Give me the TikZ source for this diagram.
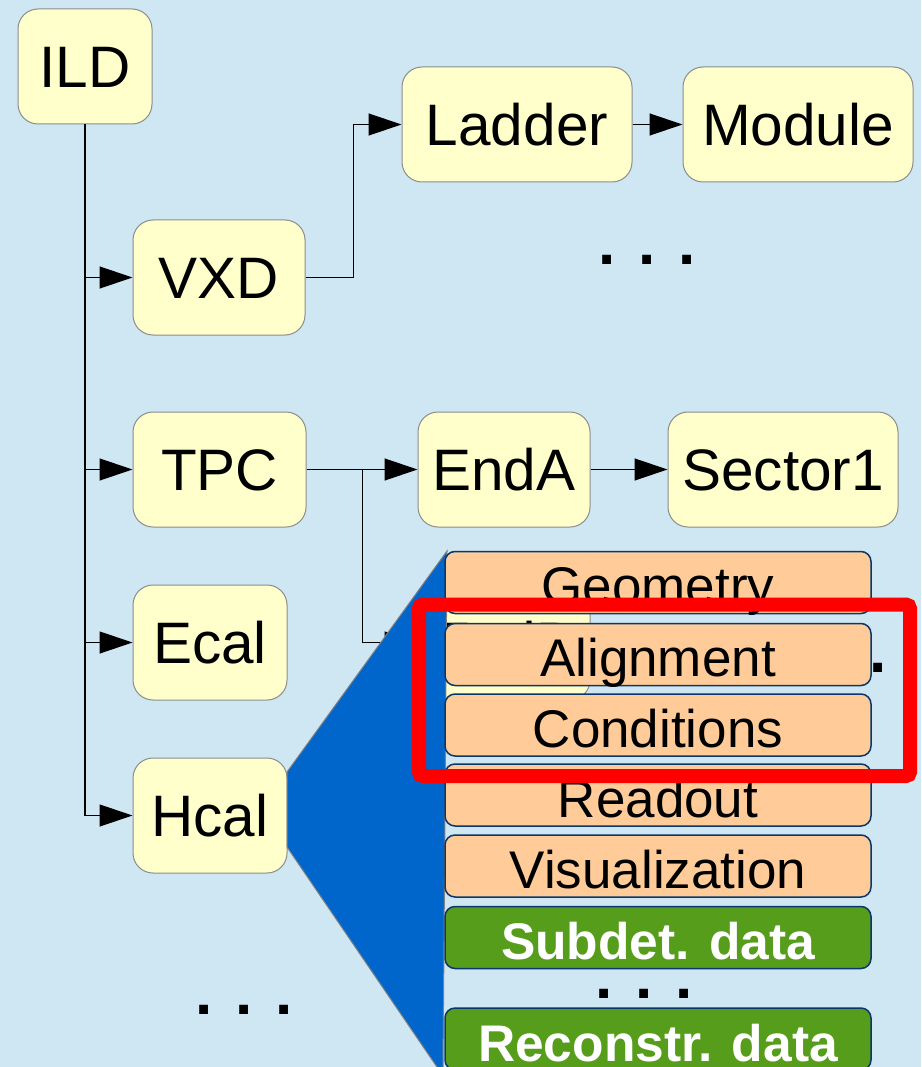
\documentclass[tikz,border=0pt]{standalone}
\usepackage{fontspec}
\setmainfont{Liberation Sans}
\usetikzlibrary{arrows.meta}
\definecolor{bgblue}{RGB}{207,230,243}
\definecolor{ylfill}{RGB}{255,255,204}
\definecolor{ylline}{RGB}{140,140,140}
\definecolor{orfill}{RGB}{255,204,153}
\definecolor{navyline}{RGB}{10,55,105}
\definecolor{grfill}{RGB}{87,157,28}
\definecolor{fanblue}{RGB}{0,102,204}
\definecolor{framered}{RGB}{255,0,0}
\tikzset{
  ybox/.style={draw=ylline, fill=ylfill, line width=1pt, rounded corners=20pt,
    minimum height=115pt, inner sep=0pt,
    font=\fontsize{58.5}{70}\selectfont, text height=42pt, text depth=0pt},
  obox/.style={draw=navyline, fill=orfill, line width=1.5pt, rounded corners=10pt,
    minimum width=426pt, minimum height=62pt, inner sep=0pt,
    font=\fontsize{53}{60}\selectfont, text height=44pt, text depth=0pt},
  gbox/.style={obox, fill=grfill, text=white,
    font=\fontsize{51.5}{60}\selectfont\bfseries},
  arr/.style={-{Triangle[length=33pt,width=22pt]}, line width=1.3pt},
  dots/.style={anchor=base, inner sep=0pt, font=\fontsize{62}{70}\selectfont\bfseries}
}
\begin{document}
\begin{tikzpicture}[x=1pt,y=-1pt]
\useasboundingbox (0,0) rectangle (921,1067);
\clip (0,0) rectangle (921,1067);
\fill[bgblue] (0,0) rectangle (921,1067);

% yellow nodes
\node[ybox, minimum width=134pt] (ILD) at (85,66.5) {ILD};
\node[ybox, minimum width=172pt] (VXD) at (219,277.5) {VXD};
\node[ybox, minimum width=230pt] (Ladder) at (517,124.5) {Ladder};
\node[ybox, minimum width=230pt] (Module) at (798,124.5) {Module};
\node[ybox, minimum width=173pt] (TPC) at (219.5,469.5) {TPC};
\node[ybox, minimum width=172pt] (EndA) at (504,469.5) {EndA};
\node[ybox, minimum width=230pt] (Sector1) at (783,469.5) {Sector1};
\node[ybox, minimum width=154pt] (Ecal) at (210,642.5) {Ecal};
\node[ybox, minimum width=154pt] (Hcal) at (210,815.5) {Hcal};
\node[ybox, minimum width=172pt] (EndB) at (504,642.5) {EndB};

% dots
\node[dots] (dotsA) at (647,264) {. . .};
\node[dots] (dotsB) at (838,672) {. . .};
\node[dots] (dotsC) at (244,1014) {. . .};

% connectors
\draw[line width=1.3pt] (ILD.south) -- (ILD.south |- Hcal.west);
\draw[arr] (ILD.south |- VXD.west) -- (VXD.west);
\draw[arr] (ILD.south |- TPC.west) -- (TPC.west);
\draw[arr] (ILD.south |- Ecal.west) -- (Ecal.west);
\draw[arr] (ILD.south |- Hcal.west) -- (Hcal.west);
\draw[arr] (VXD.east) -- ++(48,0) |- (Ladder.west);
\draw[arr] (Ladder.east) -- (Module.west);
\draw[arr] (TPC.east) -- (EndA.west);
\draw[arr] (TPC.east) -- ++(56,0) |- (EndB.west);
\draw[arr] (EndA.east) -- (Sector1.west);

% blue fan
\filldraw[fill=fanblue, draw=gray, line width=1pt]
  (287,772) -- (447,551) -- (443,1070) -- (439,1070) -- (287,847) -- cycle;

% data boxes
\node[obox] (Geometry) at (658,582.5) {Geometry};
\node[obox] (Alignment) at (658,654.5) {Alignment};
\node[obox] (Conditions) at (658,725) {Conditions};
\node[obox] (Readout) at (658,795) {Readout};
\node[obox] (Visualization) at (658,866) {Visualization};
\node[gbox] (Subdet) at (658,937.5) {Subdet. data};
\node[dots] (dotsD) at (644,998) {. . .};
\node[gbox] (Reconstr) at (658,1039) {Reconstr. data};

% red frame
\draw[framered, line width=14pt, rounded corners=4pt] (419,604.5) rectangle (910,776);
\end{tikzpicture}
\end{document}
